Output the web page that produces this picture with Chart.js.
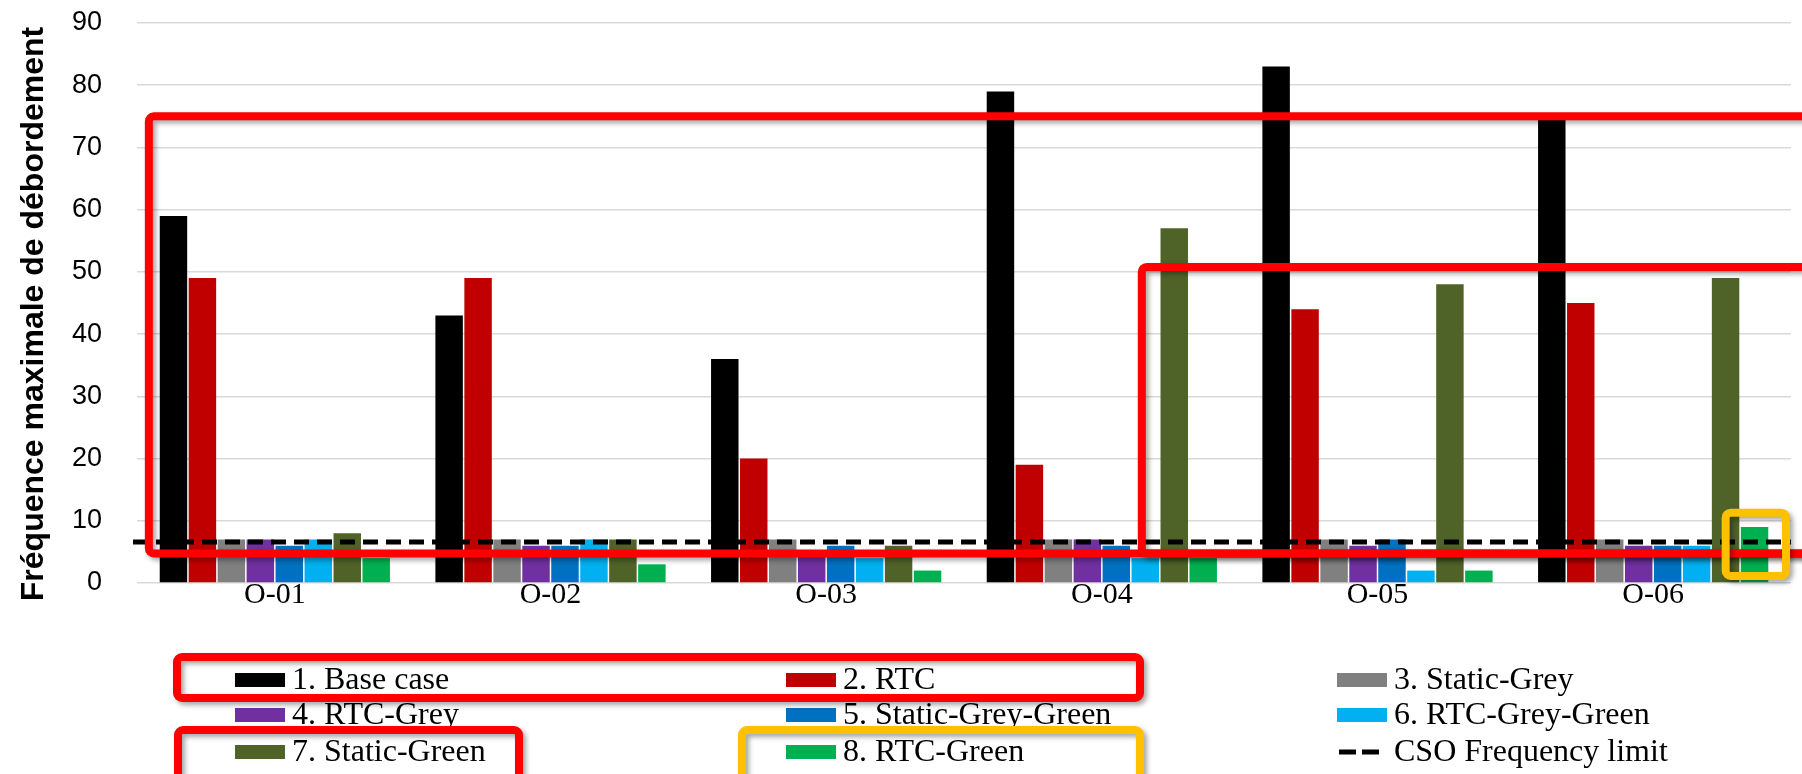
<!DOCTYPE html>
<html>
<head>
<meta charset="utf-8">
<script src="https://cdn.jsdelivr.net/npm/chart.js@4.4.1/dist/chart.umd.min.js"></script>
<style>
    html, body { margin: 0; padding: 0; background: #ffffff; }
    #graphique { display: block; }
</style>
</head>
<body>
<canvas id="graphique" width="1802" height="774"></canvas>
<script>
// Ouvrages de débordement (axe X)
const ouvrages = ['O-01', 'O-02', 'O-03', 'O-04', 'O-05', 'O-06'];

// Fréquence maximale de débordement par scénario
const baseCase        = [59, 43, 36, 79, 83, 75];
const rtc             = [49, 49, 20, 19, 44, 45];
const staticGrey      = [7, 7, 7, 7, 7, 7];
const rtcGrey         = [7, 6, 5, 7, 6, 6];
const staticGreyGreen = [6, 6, 6, 6, 7, 6];
const rtcGreyGreen    = [7, 7, 4, 4, 2, 6];
const staticGreen     = [8, 7, 6, 57, 48, 49];
const rtcGreen        = [4, 3, 2, 4, 2, 9];

const nomsScenarios = ['1. Base case', '2. RTC', '3. Static-Grey', '4. RTC-Grey',
    '5. Static-Grey-Green', '6. RTC-Grey-Green', '7. Static-Green', '8. RTC-Green'];

// Limite de fréquence CSO (ligne pointillée)
const limiteCSO = 6.6;
const nomLimite = 'CSO Frequency limit';

// Graduations de l'axe Y
const yMin = 0, yMax = 90, yPas = 10;
const titreY = 'Fréquence maximale de débordement';

const couleurs = ['#000000', '#C00000', '#808080', '#7030A0', '#0070C0', '#00B0F0', '#4F6228', '#00B050'];
const series = [baseCase, rtc, staticGrey, rtcGrey, staticGreyGreen, rtcGreyGreen, staticGreen, rtcGreen];

// Cadres de mise en évidence, en unités de données (index d'ouvrage, fréquence)
const cadresGraphique = [
    { x: [-0.457, 6.6], y: [4.76, 75], couleur: '#FF0000' },
    { x: [3.145, 6.6], y: [4.76, 50.8], couleur: '#FF0000' },
    { x: [5.263, 5.482], y: [1.13, 11.3], couleur: '#FFC000' }
];

// Cadres autour de certaines entrées de la légende (pixels)
const cadresLegende = [
    { x1: 177, y1: 657, x2: 1140, y2: 698, couleur: '#FF0000' },
    { x1: 178, y1: 730, x2: 519, y2: 800, couleur: '#FF0000' },
    { x1: 742, y1: 730, x2: 1140, y2: 800, couleur: '#FFC000' }
];

const colonnesLegende = [235, 786, 1337];
const lignesLegende = [680, 715, 752];

function tracerCadre(ctx, x1, y1, x2, y2, couleur) {
    ctx.save();
    ctx.strokeStyle = couleur;
    ctx.lineWidth = 8;
    ctx.lineJoin = 'round';
    ctx.shadowColor = 'rgba(0, 0, 0, 0.35)';
    ctx.shadowBlur = 5;
    ctx.shadowOffsetX = 3;
    ctx.shadowOffsetY = 3;
    ctx.beginPath();
    ctx.roundRect(x1, y1, x2 - x1, y2 - y1, 5);
    ctx.stroke();
    ctx.restore();
}

// Ligne pointillée de la limite CSO, sur toute la largeur
const pluginLimite = {
    id: 'limiteCSO',
    afterDatasetsDraw(chart) {
        const { ctx, chartArea, scales } = chart;
        const y = scales.y.getPixelForValue(limiteCSO);
        ctx.save();
        ctx.strokeStyle = '#000000';
        ctx.lineWidth = 5;
        ctx.setLineDash([15, 8]);
        ctx.beginPath();
        ctx.moveTo(chartArea.left - 4, y);
        ctx.lineTo(chartArea.right, y);
        ctx.stroke();
        ctx.restore();
    }
};

// Titre vertical, légende sur 3 colonnes et cadres de mise en évidence
const pluginLegende = {
    id: 'legendeGrille',
    afterDraw(chart) {
        const { ctx, scales } = chart;
        const p0 = scales.x.getPixelForValue(0);
        const p1 = scales.x.getPixelForValue(1);
        const px = v => p0 + v * (p1 - p0);

        ctx.save();
        ctx.translate(34, 314);
        ctx.rotate(-Math.PI / 2);
        ctx.font = 'bold 32px "Liberation Sans", Arial, sans-serif';
        ctx.fillStyle = '#000000';
        ctx.textAlign = 'center';
        ctx.textBaseline = 'middle';
        ctx.fillText(titreY, 0, 0);
        ctx.restore();

        cadresGraphique.forEach(c => {
            tracerCadre(ctx, px(c.x[0]), scales.y.getPixelForValue(c.y[1]),
                px(c.x[1]), scales.y.getPixelForValue(c.y[0]), c.couleur);
        });

        const entrees = chart.data.datasets.map(d => ({ texte: d.label, couleur: d.backgroundColor }));
        entrees.push({ texte: nomLimite, pointille: true });

        ctx.save();
        ctx.font = '32px "Liberation Serif", "Times New Roman", serif';
        ctx.textBaseline = 'middle';
        ctx.textAlign = 'left';
        entrees.forEach((e, k) => {
            const x = colonnesLegende[k % 3];
            const y = lignesLegende[Math.floor(k / 3)];
            if (e.pointille) {
                ctx.fillStyle = '#000000';
                ctx.fillRect(x + 2, y - 2.5, 17, 5);
                ctx.fillRect(x + 25, y - 2.5, 17, 5);
            } else {
                ctx.fillStyle = e.couleur;
                ctx.fillRect(x, y - 7, 50, 14);
            }
            ctx.fillStyle = '#000000';
            ctx.fillText(e.texte, x + 57, y + 1);
        });
        ctx.restore();

        cadresLegende.forEach(c => tracerCadre(ctx, c.x1, c.y1, c.x2, c.y2, c.couleur));
    }
};

new Chart(document.getElementById('graphique'), {
    type: 'bar',
    data: {
        labels: ouvrages,
        datasets: series.map((valeurs, i) => ({
            label: nomsScenarios[i],
            data: valeurs,
            backgroundColor: couleurs[i],
            borderWidth: 0,
            barPercentage: 0.948,
            categoryPercentage: 0.8406
        }))
    },
    options: {
        responsive: false,
        animation: false,
        layout: { padding: { top: 23, right: 11, bottom: 0, left: 0 } },
        plugins: {
            legend: { display: false },
            tooltip: { enabled: false }
        },
        scales: {
            x: {
                grid: { display: false, drawTicks: false },
                border: { display: false },
                ticks: {
                    color: '#000000',
                    padding: 0,
                    font: { family: '"Liberation Serif", "Times New Roman", serif', size: 30, lineHeight: 0.8 }
                },
                afterFit(scale) { scale.height = 191; }
            },
            y: {
                min: yMin,
                max: yMax,
                // tickLength invisible pour écarter les libellés de la grille
                grid: { color: '#d9d9d9', lineWidth: 1.5, drawTicks: true, tickLength: 35, tickColor: 'rgba(0,0,0,0)' },
                border: { display: false },
                ticks: {
                    stepSize: yPas,
                    color: '#000000',
                    padding: 0,
                    font: { family: '"Liberation Sans", Arial, sans-serif', size: 27 }
                },
                afterFit(scale) { scale.width = 137; }
            }
        }
    },
    plugins: [pluginLimite, pluginLegende]
});
</script>
</body>
</html>
